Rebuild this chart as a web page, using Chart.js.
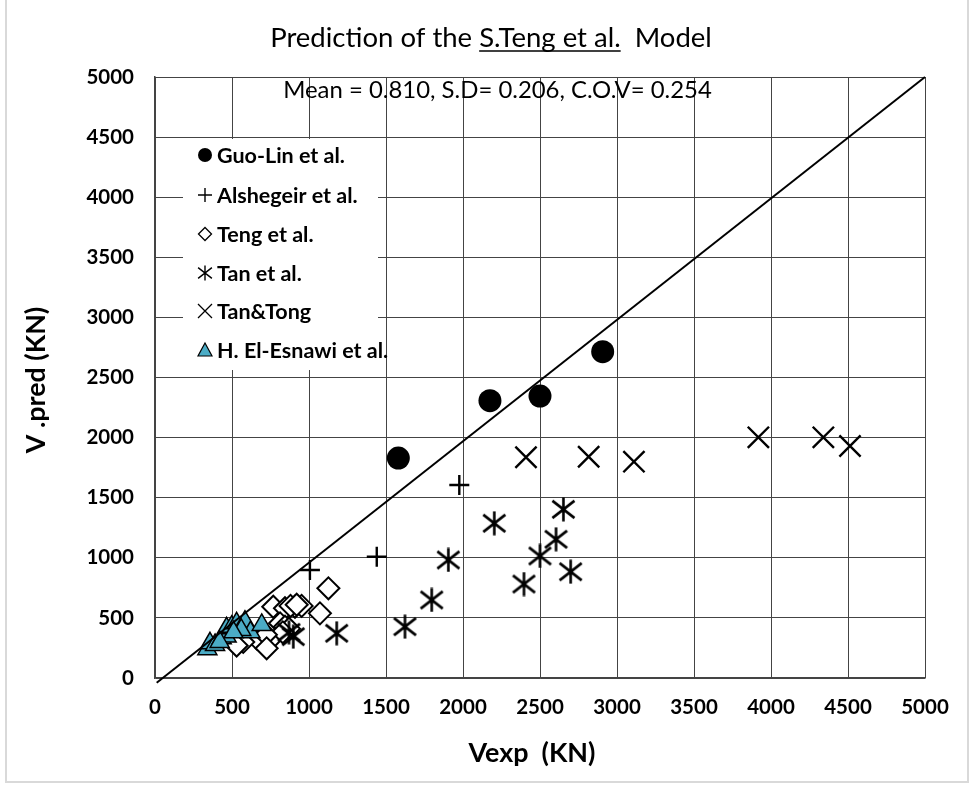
<!DOCTYPE html>
<html><head><meta charset="utf-8">
<script src="https://cdn.jsdelivr.net/npm/chart.js@4.4.1/dist/chart.umd.min.js"></script>
<style>html,body{margin:0;padding:0;background:#fff}#wrap{width:972px;height:786px;position:relative}</style>
</head><body><div id="wrap"><canvas id="c" width="972" height="786"></canvas></div>
<script>
// ---- data ----
const axisTicks = [0,500,1000,1500,2000,2500,3000,3500,4000,4500,5000];
const seriesNames = ['Guo-Lin et al.','Alshegeir et al.','Teng et al.','Tan et al.','Tan&Tong','H. El-Esnawi et al.'];
const guoLinX = [1580, 2175, 2500, 2907];
const guoLinY = [1830, 2307, 2346, 2715];
const alshegeirX = [1006, 1440, 1976, 840];
const alshegeirY = [898, 1009, 1606, 440];
const tengX = [1126, 1071, 768, 844, 909, 952, 880, 920, 812, 844, 870, 747, 660, 573, 830, 720, 725, 530];
const tengY = [746, 538, 593, 580, 593, 600, 600, 610, 455, 427, 410, 316, 330, 300, 380, 360, 247, 270];
const tanX = [2203, 2652, 2604, 2500, 2699, 2396, 1905, 1797, 1623, 1180, 898, 870];
const tanY = [1287, 1403, 1154, 1015, 884, 782, 982, 649, 427, 372, 344, 380];
const tanTongX = [2409, 2816, 3110, 3918, 4340, 4513];
const tanTongY = [1836, 1841, 1800, 2002, 2002, 1930];
const esnawiX = [340, 357, 390, 433, 465, 465, 498, 530, 584, 620, 693, 560, 510, 420];
const esnawiY = [240, 289, 275, 330, 345, 413, 427, 455, 469, 380, 441, 400, 380, 300];
const lineX = [11, 5000];
const lineY = [-39, 5000];
const titleParts = ['Prediction of the ', 'S.Teng et al.', '  Model'];
const statsText = 'Mean = 0.810, S.D= 0.206, C.O.V= 0.254';
const xTitle = 'Vexp  (KN)';
const yTitle = 'V .pred (KN)';

const pts = (xs, ys) => xs.map((x, i) => ({x, y: ys[i]}));
const TRI = '#4bacc6';

function makeAsterisk(size, lw) {
  const c = document.createElement('canvas');
  c.width = c.height = size;
  const g = c.getContext('2d');
  const m = size / 2, r = size / 2 - 0.5;
  g.strokeStyle = '#000'; g.lineWidth = lw;
  g.beginPath();
  g.moveTo(m, m - r); g.lineTo(m, m + r);
  const dx = r * 0.92, dy = r * 0.72;
  g.moveTo(m - dx, m - dy); g.lineTo(m + dx, m + dy);
  g.moveTo(m + dx, m - dy); g.lineTo(m - dx, m + dy);
  g.stroke();
  return c;
}
const asteriskBig = makeAsterisk(25, 2.6);
const asteriskSmall = makeAsterisk(16, 1.4);

const FONT = 'Lato, "Open Sans", sans-serif';

function fitFont(ctx, text, weight, target, base) {
  ctx.font = weight + ' ' + base + 'px ' + FONT;
  const w = ctx.measureText(text).width;
  return base * target / w;
}

const decor = {
  id: 'decor',
  beforeDatasetsDraw(chart) {
    const ctx = chart.ctx;
    ctx.save();
    ctx.fillStyle = '#fff';
    ctx.fillRect(183, 139, 195, 231);
    const rows = [155, 195, 234, 273, 311, 350];
    const mx = 205;
    const fs = fitFont(ctx, seriesNames[0], 'bold', 128, 20);
    ctx.font = 'bold ' + fs + 'px ' + FONT;
    ctx.fillStyle = '#000';
    ctx.textBaseline = 'middle';
    ctx.textAlign = 'left';
    rows.forEach((y, i) => { ctx.fillText(seriesNames[i], 217, y + 1); });
    ctx.strokeStyle = '#000';
    ctx.beginPath(); ctx.arc(mx, rows[0], 7, 0, Math.PI * 2); ctx.fillStyle = '#000'; ctx.fill();
    ctx.lineWidth = 1.4;
    ctx.beginPath(); ctx.moveTo(mx - 7, rows[1]); ctx.lineTo(mx + 7, rows[1]); ctx.moveTo(mx, rows[1] - 7); ctx.lineTo(mx, rows[1] + 7); ctx.stroke();
    ctx.lineWidth = 1.3;
    ctx.beginPath(); ctx.moveTo(mx - 6.5, rows[2]); ctx.lineTo(mx, rows[2] - 6.5); ctx.lineTo(mx + 6.5, rows[2]); ctx.lineTo(mx, rows[2] + 6.5); ctx.closePath();
    ctx.fillStyle = '#fff'; ctx.fill(); ctx.stroke();
    ctx.drawImage(asteriskSmall, mx - 8, rows[3] - 8);
    ctx.lineWidth = 1.3;
    ctx.beginPath(); ctx.moveTo(mx - 7, rows[4] - 7); ctx.lineTo(mx + 7, rows[4] + 7); ctx.moveTo(mx + 7, rows[4] - 7); ctx.lineTo(mx - 7, rows[4] + 7); ctx.stroke();
    ctx.lineWidth = 1.2;
    ctx.beginPath(); ctx.moveTo(mx, rows[5] - 7); ctx.lineTo(mx + 7, rows[5] + 6); ctx.lineTo(mx - 7, rows[5] + 6); ctx.closePath();
    ctx.fillStyle = TRI; ctx.fill(); ctx.stroke();
    ctx.restore();
  },
  afterDraw(chart) {
    const ctx = chart.ctx;
    ctx.save();
    ctx.strokeStyle = '#d9d9d9'; ctx.lineWidth = 2;
    ctx.beginPath(); ctx.moveTo(6, 0); ctx.lineTo(6, 782); ctx.lineTo(968, 782); ctx.lineTo(968, 0); ctx.stroke();
    // title
    ctx.fillStyle = '#000';
    ctx.textBaseline = 'alphabetic';
    ctx.textAlign = 'left';
    const full = titleParts.join('');
    const tfs = fitFont(ctx, full, 'normal', 442, 23);
    ctx.font = 'normal ' + tfs + 'px ' + FONT;
    const w = ctx.measureText(full).width;
    const x = 491 - w / 2;
    const by = 47;
    ctx.fillText(full, x, by);
    const x1 = x + ctx.measureText(titleParts[0]).width;
    const w1 = ctx.measureText(titleParts[1]).width;
    ctx.lineWidth = 1.6; ctx.strokeStyle = '#000';
    ctx.beginPath(); ctx.moveTo(x1, by + 4); ctx.lineTo(x1 + w1, by + 4); ctx.stroke();
    // stats
    const sfs = fitFont(ctx, statsText, 'normal', 429, 22);
    ctx.font = 'normal ' + sfs + 'px ' + FONT;
    ctx.textAlign = 'center';
    ctx.fillText(statsText, 497.5, 98);
    // axis titles
    ctx.textBaseline = 'middle';
    const xfs = fitFont(ctx, xTitle, 'bold', 127, 24);
    ctx.font = 'bold ' + xfs + 'px ' + FONT;
    ctx.fillText(xTitle, 532, 753);
    ctx.font = 'bold ' + xfs + 'px ' + FONT;
    ctx.translate(36, 380);
    ctx.rotate(-Math.PI / 2);
    ctx.fillText(yTitle, 0, 0);
    ctx.restore();
  }
};

const gridOpts = { color: '#444', lineWidth: 1, drawTicks: false };
const tickFont = { family: FONT, size: 20.5, weight: 'bold' };

new Chart(document.getElementById('c'), {
  type: 'scatter',
  data: {
    datasets: [
      { label: 'line', type: 'line', data: pts(lineX, lineY), borderColor: '#000', borderWidth: 2, pointRadius: 0, clip: false, order: -1 },
      { label: seriesNames[5], data: pts(esnawiX, esnawiY), pointStyle: 'triangle', pointRadius: 11, backgroundColor: TRI, borderColor: '#000', borderWidth: 1.5, order: 0 },
      { label: seriesNames[4], data: pts(tanTongX, tanTongY), pointStyle: 'crossRot', pointRadius: 15, borderColor: '#000', borderWidth: 2.4, order: 1 },
      { label: seriesNames[3], data: pts(tanX, tanY), pointStyle: asteriskBig, order: 2 },
      { label: seriesNames[2], data: pts(tengX, tengY), pointStyle: 'rectRot', pointRadius: 11, backgroundColor: '#fff', borderColor: '#000', borderWidth: 2, order: 3 },
      { label: seriesNames[1], data: pts(alshegeirX, alshegeirY), pointStyle: 'cross', pointRadius: 10, borderColor: '#000', borderWidth: 2.4, order: 4 },
      { label: seriesNames[0], data: pts(guoLinX, guoLinY), pointStyle: 'circle', pointRadius: 11.5, backgroundColor: '#000', borderColor: '#000', borderWidth: 0, order: 5 }
    ]
  },
  options: {
    responsive: false,
    animation: false,
    devicePixelRatio: 1,
    layout: { padding: { top: 77, right: 47, left: 0, bottom: 0 } },
    plugins: { legend: { display: false }, title: { display: false }, tooltip: { enabled: false } },
    scales: {
      x: {
        type: 'linear', min: 0, max: 5000,
        afterBuildTicks: s => { s.ticks = axisTicks.map(v => ({value: v})); },
        afterFit: s => { s.height = 108; },
        grid: gridOpts, border: { color: '#444', width: 1.5 },
        ticks: { font: tickFont, color: '#000', padding: 17, maxRotation: 0, callback: v => String(v) },
        title: { display: false }
      },
      y: {
        type: 'linear', min: 0, max: 5000,
        afterBuildTicks: s => { s.ticks = axisTicks.map(v => ({value: v})); },
        afterFit: s => { s.width = 155; },
        grid: gridOpts, border: { color: '#444', width: 1.5 },
        ticks: { font: tickFont, color: '#000', padding: 21, callback: v => String(v) },
        title: { display: false }
      }
    }
  },
  plugins: [decor]
});
</script>
</body></html>
